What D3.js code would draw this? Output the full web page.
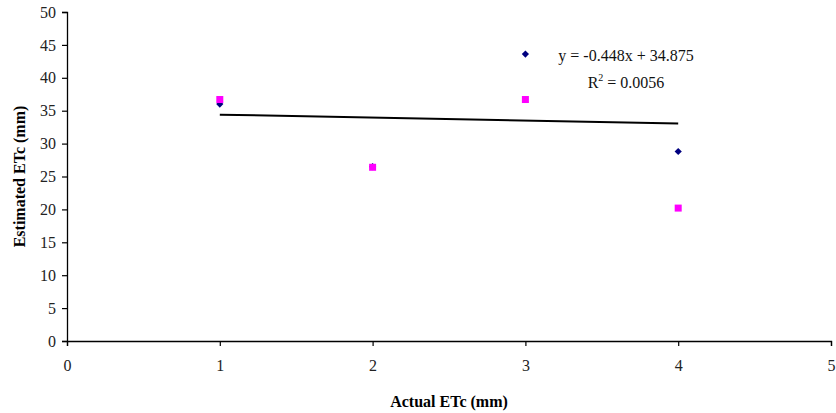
<!DOCTYPE html>
<meta charset="utf-8">
<title>Estimated vs Actual ETc</title>
<style>
    body { margin: 0; background: #fff; }
    svg text { font-family: "Liberation Serif", "Times New Roman", serif; }
</style>
<body>
<script src="https://d3js.org/d3.v7.min.js"></script>
<script>

    // data
    var actual = [1, 2, 3, 4];
    var estimatedA = [36.0, 26.5, 43.6, 28.8];   // navy diamonds
    var estimatedB = [36.7, 26.4, 36.7, 20.2];   // magenta squares
    var xTicks = [0, 1, 2, 3, 4, 5];
    var yTicks = [0, 5, 10, 15, 20, 25, 30, 35, 40, 45, 50];
    var eqLabel = "y = -0.448x + 34.875";
    var r2Value = "0.0056";

    var width = 836, height = 413;
    var margin = {left: 67, right: 5, top: 12, bottom: 72};

    var svg = d3.select("body").append("svg")
        .attr("width", width)
        .attr("height", height);

    var x = d3.scaleLinear().domain([0, 5]).range([margin.left, width - margin.right]);
    var y = d3.scaleLinear().domain([0, 50]).range([height - margin.bottom, margin.top]);

    // least squares fit on the first series
    var mx = d3.mean(actual), my = d3.mean(estimatedA);
    var sxy = d3.sum(actual, function(d, i) { return (d - mx) * (estimatedA[i] - my); });
    var sxx = d3.sum(actual, function(d) { return (d - mx) * (d - mx); });
    var slope = sxy / sxx, intercept = my - slope * mx;

    svg.append("g")
        .attr("transform", "translate(" + margin.left + ",0)")
        .call(d3.axisLeft(y).tickValues(yTicks).tickSize(5).tickPadding(6).tickFormat(d3.format("d")));
    svg.append("g")
        .attr("transform", "translate(0," + y(0) + ")")
        .call(d3.axisBottom(x).tickValues(xTicks).tickSize(5).tickPadding(14).tickFormat(d3.format("d")));

    svg.selectAll(".domain").attr("stroke", "#000").attr("stroke-width", 1.3);
    svg.selectAll(".tick line").attr("stroke", "#000").attr("stroke-width", 1.2);
    svg.selectAll(".tick text")
        .attr("fill", "#222")
        .style("font-family", "'Liberation Serif', serif")
        .style("font-size", "16px");

    // axis titles
    svg.append("text")
        .attr("x", (margin.left + width - margin.right) / 2)
        .attr("y", 407)
        .attr("text-anchor", "middle")
        .style("font-size", "16px")
        .style("font-weight", "bold")
        .text("Actual ETc (mm)");

    svg.append("text")
        .attr("transform", "translate(25," + (margin.top + y(0)) / 2 + ") rotate(-90)")
        .attr("text-anchor", "middle")
        .style("font-size", "16px")
        .style("font-weight", "bold")
        .text("Estimated ETc (mm)");

    // trend line
    svg.append("line")
        .attr("x1", x(d3.min(actual)))
        .attr("y1", y(slope * d3.min(actual) + intercept))
        .attr("x2", x(d3.max(actual)))
        .attr("y2", y(slope * d3.max(actual) + intercept))
        .attr("stroke", "#000")
        .attr("stroke-width", 2);

    // series A: diamonds
    svg.selectAll(".ptA")
        .data(actual)
        .enter().append("path")
        .attr("class", "ptA")
        .attr("d", d3.symbol().type(d3.symbolSquare).size(26))
        .attr("transform", function(d, i) { return "translate(" + x(d) + "," + y(estimatedA[i]) + ") rotate(45)"; })
        .attr("fill", "#000080");

    // series B: squares
    svg.selectAll(".ptB")
        .data(actual)
        .enter().append("rect")
        .attr("class", "ptB")
        .attr("x", function(d) { return x(d) - 3.5; })
        .attr("y", function(d, i) { return y(estimatedB[i]) - 3.5; })
        .attr("width", 7)
        .attr("height", 7)
        .attr("fill", "#ff00ff");

    // equation label
    svg.append("text")
        .attr("x", 626)
        .attr("y", 61)
        .attr("text-anchor", "middle")
        .style("font-size", "16px")
        .attr("fill", "#111")
        .text(eqLabel);

    var r2 = svg.append("text")
        .attr("x", 626)
        .attr("y", 88)
        .attr("text-anchor", "middle")
        .style("font-size", "16px")
        .attr("fill", "#111");
    r2.append("tspan").text("R");
    r2.append("tspan").attr("dy", -7).style("font-size", "10px").text("2");
    r2.append("tspan").attr("dy", 7).text(" = " + r2Value);

</script>
</body>
